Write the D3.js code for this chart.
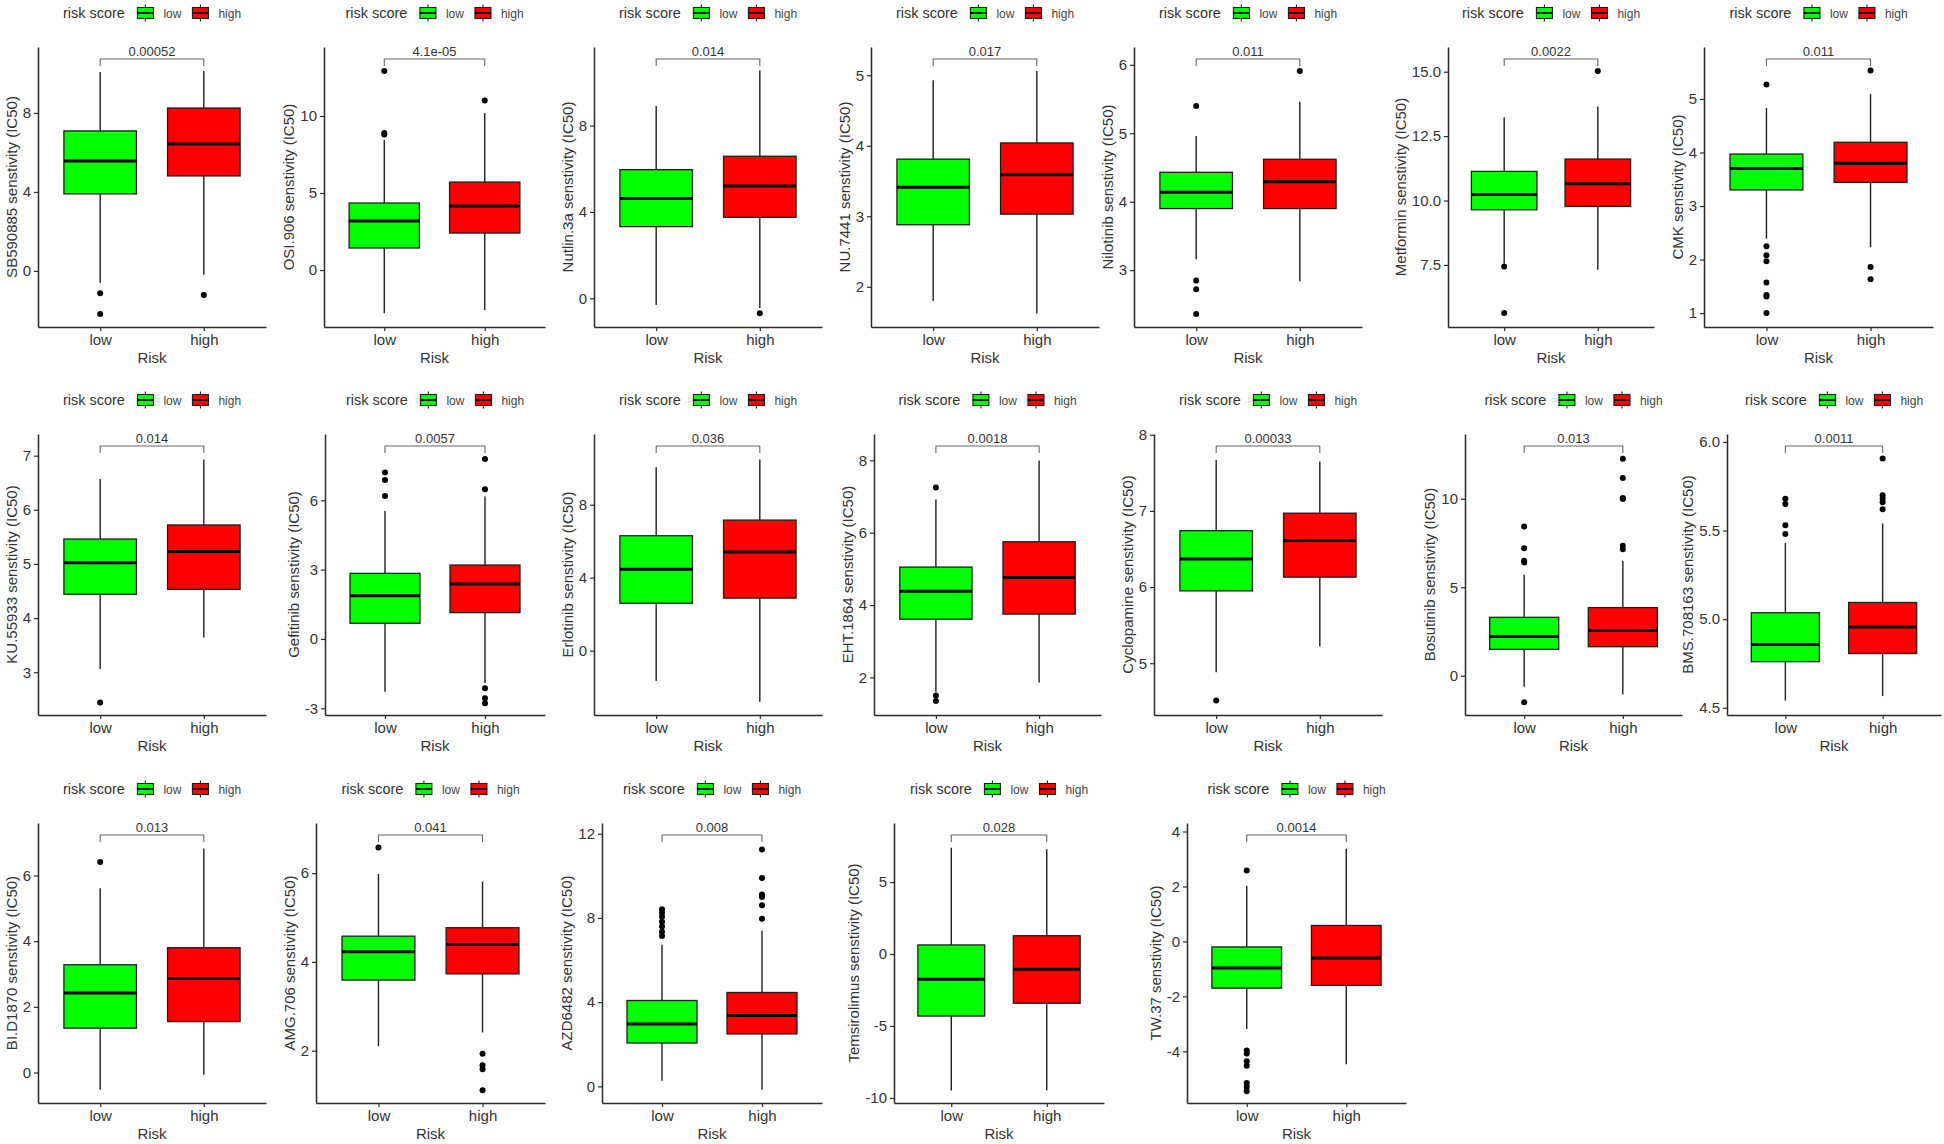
<!DOCTYPE html>
<html><head><meta charset="utf-8">
<script src="https://cdn.jsdelivr.net/npm/d3@7"></script>
<style>
body{margin:0;background:#fff;}
svg text{font-family:"Liberation Sans",Arial,Helvetica,sans-serif;}
</style>
</head><body>
<svg id="chart" width="1944" height="1144"></svg>
<script>
// ---------------- DATA ----------------
const drugs = ["SB590885","OSI.906","Nutlin.3a","NU.7441","Nilotinib","Metformin","CMK",
  "KU.55933","Gefitinib","Erlotinib","EHT.1864","Cyclopamine","Bosutinib","BMS.708163",
  "BI.D1870","AMG.706","AZD6482","Temsirolimus","TW.37"];
const groups = ["low","high"];
const legendTitle = "risk score";
const xTitle = "Risk";
const pValues = ["0.00052","4.1e-05","0.014","0.017","0.011","0.0022","0.011",
  "0.014","0.0057","0.036","0.0018","0.00033","0.013","0.0011",
  "0.013","0.041","0.008","0.028","0.0014"];
// [lower whisker, Q1, median, Q3, upper whisker]
const lowStats = [
  [-0.61,3.90,5.57,7.09,10.08],[-2.80,1.43,3.18,4.35,8.44],[-0.31,3.32,4.62,5.96,8.91],
  [1.80,2.88,3.41,3.81,4.93],[3.16,3.90,4.14,4.43,4.96],[7.56,9.64,10.23,11.13,13.23],
  [2.39,3.30,3.70,3.97,4.83],
  [3.06,4.44,5.02,5.46,6.57],[-2.28,0.68,1.87,2.84,5.54],[-1.67,2.60,4.46,6.30,10.05],
  [1.60,3.61,4.38,5.05,6.92],[4.88,5.95,6.37,6.74,7.67],[-0.62,1.49,2.21,3.30,5.70],
  [4.54,4.76,4.857,5.036,5.43],
  [-0.53,1.35,2.42,3.28,5.61],[2.10,3.59,4.23,4.58,5.98],[0.27,2.06,2.96,4.08,6.73],
  [-9.48,-4.31,-1.76,0.63,7.38],[-3.19,-1.70,-0.97,-0.20,2.03]
];
const highStats = [
  [-0.20,4.81,6.43,8.25,10.13],[-2.60,2.40,4.16,5.71,10.2],[-0.45,3.75,5.20,6.58,10.55],
  [1.62,3.03,3.59,4.04,5.06],[2.84,3.90,4.29,4.62,5.46],[7.31,9.77,10.65,11.61,13.65],
  [2.23,3.44,3.80,4.19,5.09],
  [3.64,4.53,5.23,5.72,6.93],[-1.91,1.14,2.38,3.20,6.16],[-2.80,2.88,5.41,7.16,10.48],
  [1.86,3.75,4.76,5.75,8.00],[5.22,6.13,6.61,6.97,7.65],[-1.05,1.64,2.55,3.85,6.49],
  [4.566,4.806,4.956,5.094,5.54],
  [-0.07,1.55,2.86,3.80,6.82],[2.41,3.73,4.39,4.77,5.81],[-0.16,2.49,3.37,4.46,7.39],
  [-9.48,-3.42,-1.06,1.27,7.27],[-4.47,-1.60,-0.60,0.58,3.37]
];
const lowOutliers = [
  [-1.13,-2.18],[8.8,8.9,12.92],[],[],[5.40,2.85,2.72,2.36],[7.44,5.63],
  [5.27,2.25,2.08,1.97,1.57,1.34,1.31,1.0],
  [2.44],[7.2,6.88,6.19],[],[7.25,1.5,1.35],[4.51],[8.43,7.21,6.5,6.4,-1.50],
  [5.68,5.65,5.53,5.48],
  [6.41],[6.58],[8.41,8.25,8.06,7.82,7.59,7.35,7.14],[],
  [2.58,-3.97,-4.08,-4.36,-4.52,-5.15,-5.30,-5.45]
];
const highOutliers = [
  [-1.22],[11.0],[-0.69],[],[5.91],[15.03],[5.53,1.86,1.63],
  [],[7.79,6.48,-2.13,-2.56,-2.78],[],[],[],[12.26,11.17,10.04,9.98,7.34,7.15],
  [5.907,5.70,5.68,5.66,5.62],
  [],[1.93,1.67,1.58,1.11],[11.25,9.9,9.11,9.0,8.6,7.96],[],[]
];
const yDomains = [
  [-2.84,11.34],[-3.70,14.48],[-1.33,11.64],[1.43,5.40],[2.17,6.26],[5.09,15.96],[0.74,5.97],
  [2.21,7.40],[-3.29,8.87],[-3.53,11.88],[0.96,8.73],[4.32,8.01],[-2.22,13.66],[4.459,6.045],
  [-0.93,7.60],[0.82,7.13],[-0.79,12.51],[-10.35,9.10],[-5.88,4.31]
];
const yTicks = [
  ["0","4","8"],["0","5","10"],["0","4","8"],["2","3","4","5"],["3","4","5","6"],
  ["7.5","10.0","12.5","15.0"],["1","2","3","4","5"],
  ["3","4","5","6","7"],["-3","0","3","6"],["0","4","8"],["2","4","6","8"],["5","6","7","8"],
  ["0","5","10"],["4.5","5.0","5.5","6.0"],
  ["0","2","4","6"],["2","4","6"],["0","4","8","12"],["-10","-5","0","5"],["-4","-2","0","2","4"]
];

// ---------------- LAYOUT ----------------
const panelRow = [0,0,0,0,0,0,0,1,1,1,1,1,1,1,2,2,2,2,2];
const panelX = [
  [38,266],[324,545],[594,822],[871,1099],[1134,1362],[1448,1654],[1704,1933],
  [38,266],[325,545],[594,822],[874,1101],[1154,1382],[1465,1682],[1727,1941],
  [38,266],[316,545],[602,822],[894,1104],[1187,1406]
];
const rowTop = [47,434,823];
const rowBottom = [327,715,1103];

const fills = {low:"#00FF00", high:"#FF0000"};
const ink = "#1e1e1e";
const textCol = "#333333";

const svg = d3.select("#chart");

function measure(txt, size){
  const t = svg.append("text").attr("font-size",size).text(txt);
  const w = t.node().getComputedTextLength();
  t.remove();
  return w;
}

drugs.forEach((drug, i) => {
  const r = panelRow[i];
  const [x0, x1] = panelX[i];
  const top = rowTop[r], bottom = rowBottom[r];
  const g = svg.append("g");
  const x = d3.scalePoint().domain(groups).range([x0, x1]).padding(0.6);
  const y = d3.scaleLinear().domain(yDomains[i]).range([bottom, top]);
  const bw = x.step() * 0.7;
  const stats = {low: lowStats[i], high: highStats[i]};
  const outs = {low: lowOutliers[i], high: highOutliers[i]};

  groups.forEach(k => {
    const [wl, q1, med, q3, wh] = stats[k];
    const cx = x(k);
    g.append("line").attr("x1",cx).attr("x2",cx).attr("y1",y(wh)).attr("y2",y(q3))
      .attr("stroke",ink).attr("stroke-width",1.4);
    g.append("line").attr("x1",cx).attr("x2",cx).attr("y1",y(q1)).attr("y2",y(wl))
      .attr("stroke",ink).attr("stroke-width",1.4);
    g.append("rect").attr("x",cx-bw/2).attr("y",y(q3)).attr("width",bw)
      .attr("height",y(q1)-y(q3)).attr("fill",fills[k])
      .attr("stroke",ink).attr("stroke-width",1.3);
    g.append("line").attr("x1",cx-bw/2).attr("x2",cx+bw/2).attr("y1",y(med)).attr("y2",y(med))
      .attr("stroke","#000").attr("stroke-width",3);
    g.selectAll(null).data(outs[k]).enter().append("circle")
      .attr("cx",cx).attr("cy",d=>y(d)).attr("r",3).attr("fill","#000");
  });

  // Y axis
  const yAxis = d3.axisLeft(y).tickValues(yTicks[i].map(Number))
    .tickFormat((d,j)=>yTicks[i][j]).tickSize(4).tickSizeOuter(0).tickPadding(3);
  const ya = g.append("g").attr("transform",`translate(${x0},0)`).call(yAxis);
  ya.select(".domain").attr("stroke","#2a2a2a").attr("stroke-width",1.5);
  ya.selectAll(".tick line").attr("stroke","#2a2a2a").attr("stroke-width",1.2);
  ya.selectAll(".tick text").attr("font-size",15).attr("fill",textCol)
    .attr("font-family",'"Liberation Sans",Arial,sans-serif');
  let maxW = 0;
  ya.selectAll(".tick text").each(function(){ maxW = Math.max(maxW, this.getComputedTextLength()); });

  // X axis
  const xAxis = d3.axisBottom(x).tickSize(4).tickSizeOuter(0).tickPadding(3);
  const xa = g.append("g").attr("transform",`translate(0,${bottom})`).call(xAxis);
  xa.select(".domain").attr("stroke","#2a2a2a").attr("stroke-width",1.5);
  xa.selectAll(".tick line").attr("stroke","#2a2a2a").attr("stroke-width",1.2);
  xa.selectAll(".tick text").attr("font-size",15).attr("fill",textCol)
    .attr("font-family",'"Liberation Sans",Arial,sans-serif');

  // axis titles
  g.append("text").attr("x",(x0+x1)/2).attr("y",bottom+36).attr("text-anchor","middle")
    .attr("font-size",15).attr("fill",textCol).text(xTitle);
  const labelLeft = x0 - 4 - 3 - maxW;
  const tcx = labelLeft - 11.5;
  const tcy = (top+bottom)/2;
  g.append("text").attr("transform",`translate(${tcx+5.4},${tcy}) rotate(-90)`)
    .attr("text-anchor","middle").attr("font-size",15).attr("fill",textCol)
    .text(drug + " senstivity (IC50)");

  // p-value bracket
  const by = top + 12;
  g.append("path")
    .attr("d",`M${x("low")},${by+7}V${by}H${x("high")}V${by+7}`)
    .attr("fill","none").attr("stroke","#666").attr("stroke-width",1.1);
  g.append("text").attr("x",(x("low")+x("high"))/2).attr("y",by-3)
    .attr("text-anchor","middle").attr("font-size",13).attr("fill",textCol).text(pValues[i]);

  // legend
  const ly = top - 34;
  const tW = measure(legendTitle,14.5), lW = measure(groups[0],12), hW = measure(groups[1],12);
  const keyW = 16;
  const total = tW + 12.5 + keyW + 10 + lW + 11 + keyW + 10 + hW;
  let lx = (x0+x1)/2 - total/2;
  const lg = g.append("g");
  lg.append("text").attr("x",lx).attr("y",ly+5).attr("font-size",14.5).attr("fill",textCol).text(legendTitle);
  lx += tW + 12.5;
  groups.forEach((k, j) => {
    const kx = lx;
    lg.append("line").attr("x1",kx+keyW/2).attr("x2",kx+keyW/2).attr("y1",ly-8.5).attr("y2",ly+8.5)
      .attr("stroke",ink).attr("stroke-width",1.1);
    lg.append("rect").attr("x",kx).attr("y",ly-5.5).attr("width",keyW).attr("height",11)
      .attr("fill",fills[k]).attr("stroke",ink).attr("stroke-width",1.1);
    lg.append("line").attr("x1",kx).attr("x2",kx+keyW).attr("y1",ly).attr("y2",ly)
      .attr("stroke","#000").attr("stroke-width",1.8);
    lx += keyW + 10;
    lg.append("text").attr("x",lx).attr("y",ly+4.5).attr("font-size",12).attr("fill","#444").text(k);
    lx += (j===0 ? lW : hW) + 11;
  });
});
</script>
</body></html>
